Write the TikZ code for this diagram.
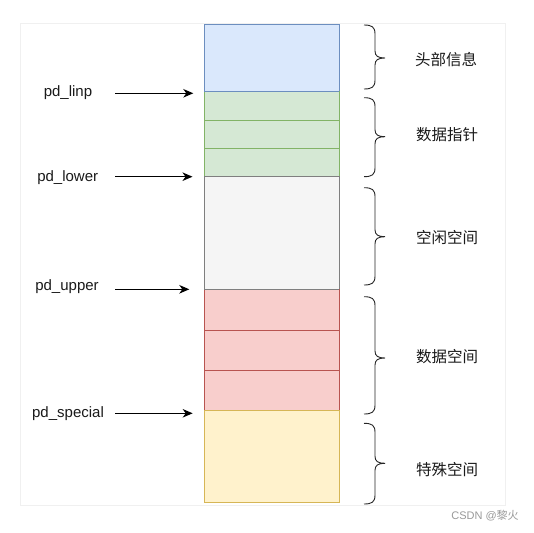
\documentclass[tikz,border=0pt]{standalone}
\usepackage{fontspec}
\setmainfont{Liberation Sans}
\newfontfamily\cjk{Noto Sans CJK SC}
\usetikzlibrary{arrows.meta}
\definecolor{bluefill}{HTML}{DAE8FC}\definecolor{bluedraw}{HTML}{6C8EBF}
\definecolor{greenfill}{HTML}{D5E8D4}\definecolor{greendraw}{HTML}{82B366}
\definecolor{grayfill}{HTML}{F5F5F5}\definecolor{graydraw}{HTML}{7F7F7F}
\definecolor{redfill}{HTML}{F8CECC}\definecolor{reddraw}{HTML}{B85450}
\definecolor{yellowfill}{HTML}{FFF2CC}\definecolor{yellowdraw}{HTML}{D6B656}
\definecolor{framecol}{HTML}{F0F0F0}
\definecolor{txt}{HTML}{1A1A1A}
\newcommand\curlybr[3]{% top, middle, bottom
  \draw[bracestyle] (364,#1) .. controls (372,#1) and (375,#1+2) .. (375,#1+9)
    -- (375,#2-7) .. controls (375,#2-2) and (378,#2) .. (385,#2)
    .. controls (378,#2) and (375,#2+2) .. (375,#2+7)
    -- (375,#3-9) .. controls (375,#3-2) and (372,#3) .. (364,#3);}
\begin{document}
\begin{tikzpicture}[x=1pt,y=-1pt,
  cell/.style={draw, line width=0.9pt, inner sep=0pt, outer sep=0pt,
    minimum width=135pt, anchor=north west},
  ptr/.style={font=\fontsize{15}{18}\selectfont, text=txt, inner sep=1pt},
  lbl/.style={font=\cjk\fontsize{15.5}{18}\selectfont, text=txt, inner sep=1pt},
  arr/.style={-{Stealth[length=10pt,width=8.5pt,inset=3pt]}, line width=1.2pt, black},
  bracestyle/.style={draw=black!85, line width=0.9pt}]
\useasboundingbox (0,0) rectangle (534,532);
\fill[white] (0,0) rectangle (534,532);
\draw[framecol, line width=0.9pt] (20.5,23.3) rectangle (505.3,505.7);
% memory cells
\node[cell, fill=bluefill, draw=bluedraw, minimum height=67.2pt] (head) at (204.3,24.5) {};
\node[cell, fill=greenfill, draw=greendraw, minimum height=28.3pt] (g1) at (204.3,91.7) {};
\node[cell, fill=greenfill, draw=greendraw, minimum height=28.3pt] (g2) at (204.3,120) {};
\node[cell, fill=greenfill, draw=greendraw, minimum height=28.2pt] (g3) at (204.3,148.3) {};
\node[cell, fill=grayfill, draw=graydraw, minimum height=112.8pt] (free) at (204,176.5) {};
\node[cell, fill=redfill, draw=reddraw, minimum height=40.7pt] (r1) at (204,289.3) {};
\node[cell, fill=redfill, draw=reddraw, minimum height=40pt] (r2) at (204,330) {};
\node[cell, fill=redfill, draw=reddraw, minimum height=40.7pt] (r3) at (204,370) {};
\node[cell, fill=yellowfill, draw=yellowdraw, minimum height=92pt] (spec) at (204,410.7) {};
% redraw shared edges in their own colour
\draw[bluedraw, line width=0.9pt] (head.south west) -- (head.south east);
\draw[graydraw, line width=0.9pt] (free.north west) -- (free.north east);
\draw[graydraw, line width=0.9pt] (free.south west) -- (free.south east);
% pointer labels
\node[ptr] (linp) at (68,92.8) {pd\_linp};
\node[ptr] (lower) at (67.7,177.3) {pd\_lower};
\node[ptr] (upper) at (67,286.8) {pd\_upper};
\node[ptr] (special) at (68,413.8) {pd\_special};
\coordinate (linpS) at (115,93.3);   \coordinate (linpE) at (193.3,93.3);
\coordinate (lowerS) at (115,176.7); \coordinate (lowerE) at (192.5,176.7);
\coordinate (upperS) at (115,289.3); \coordinate (upperE) at (189.3,289.3);
\coordinate (specS) at (115,413.3);  \coordinate (specE) at (192.7,413.3);
\draw[arr] (linpS) -- (linpE);
\draw[arr] (lowerS) -- (lowerE);
\draw[arr] (upperS) -- (upperE);
\draw[arr] (specS) -- (specE);
% braces
\curlybr{25}{58}{89}
\curlybr{97.7}{136.7}{176.7}
\curlybr{187.7}{236.7}{285}
\curlybr{296.7}{358}{414}
\curlybr{423.3}{463.3}{504}
% region labels
\node[lbl] (l1) at (446,59.5) {头部信息};
\node[lbl] (l2) at (447,135) {数据指针};
\node[lbl] (l3) at (447,238) {空闲空间};
\node[lbl] (l4) at (447,356.5) {数据空间};
\node[lbl] (l5) at (447,469.5) {特殊空间};
% watermark
\node[font=\fontsize{11}{13}\selectfont, text=black!40, inner sep=0pt] (wm) at (485,516) {CSDN @{\cjk 黎火}};
\end{tikzpicture}
\end{document}
